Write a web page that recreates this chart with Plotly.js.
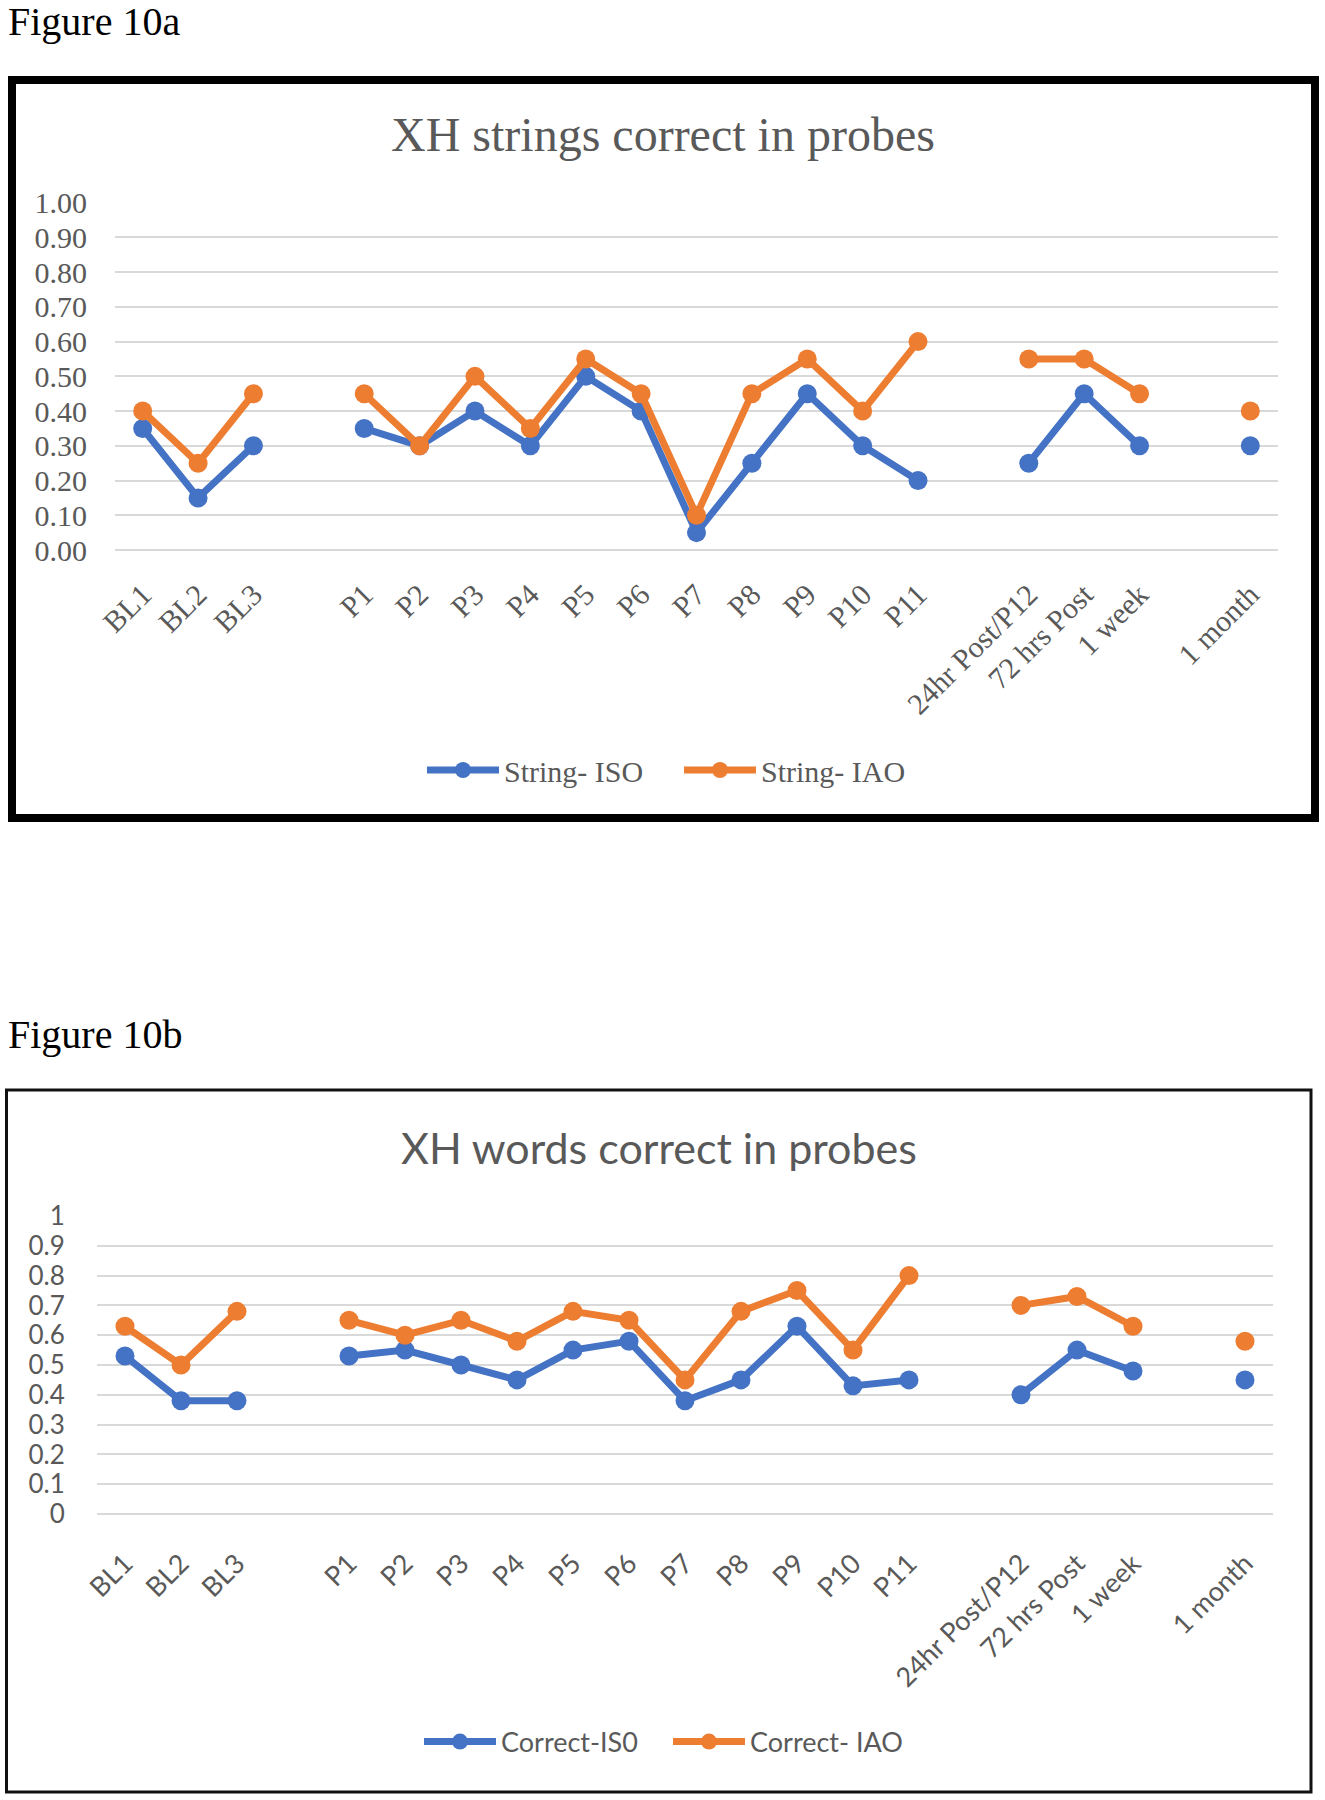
<!DOCTYPE html>
<html>
<head>
<meta charset="utf-8">
<script src="https://cdn.plot.ly/plotly-3.0.1.min.js"></script>
<style>
  html, body { margin: 0; padding: 0; background: #ffffff; }
  #chart { width: 1325px; height: 1800px; }
</style>
</head>
<body>
<div id="chart"></div>
<script>
// ---- Data ----
const categories = ["BL1", "BL2", "BL3", "", "P1", "P2", "P3", "P4", "P5", "P6", "P7", "P8", "P9", "P10", "P11", "", "24hr Post/P12", "72 hrs Post", "1 week", "", "1 month"];
const yTicks = [0, 0.1, 0.2, 0.3, 0.4, 0.5, 0.6, 0.7, 0.8, 0.9, 1.0];

// Figure 10a: XH strings correct in probes
const stringISO = [0.35, 0.15, 0.30, null, 0.35, 0.30, 0.40, 0.30, 0.50, 0.40, 0.05, 0.25, 0.45, 0.30, 0.20, null, 0.25, 0.45, 0.30, null, 0.30];
const stringIAO = [0.40, 0.25, 0.45, null, 0.45, 0.30, 0.50, 0.35, 0.55, 0.45, 0.10, 0.45, 0.55, 0.40, 0.60, null, 0.55, 0.55, 0.45, null, 0.40];

// Figure 10b: XH words correct in probes
const correctISO = [0.53, 0.38, 0.38, null, 0.53, 0.55, 0.50, 0.45, 0.55, 0.58, 0.38, 0.45, 0.63, 0.43, 0.45, null, 0.40, 0.55, 0.48, null, 0.45];
const correctIAO = [0.63, 0.50, 0.68, null, 0.65, 0.60, 0.65, 0.58, 0.68, 0.65, 0.45, 0.68, 0.75, 0.55, 0.80, null, 0.70, 0.73, 0.63, null, 0.58];

const seriesNamesA = ["String- ISO", "String- IAO"];
const seriesNamesB = ["Correct-IS0", "Correct- IAO"];

// ---- Styling ----
const W = 1325, H = 1800;
const BLUE = "#4472C4", ORANGE = "#ED7D31", GRAY = "#595959", GRID = "#D9D9D9";
const SERIF = "Liberation Serif, Times New Roman, serif";
const SANS = "Lato, Carlito, Calibri, sans-serif";
const px = v => v / W;
const py = v => 1 - v / H;

const xIdx = categories.map((c, i) => i);

function lineTrace(y, name, color, xa, ya, legend) {
  return {
    type: "scatter", mode: "lines+markers",
    x: xIdx, y: y, name: name,
    xaxis: xa, yaxis: ya, legend: legend,
    connectgaps: false,
    line: { color: color, width: 7 },
    marker: { color: color, size: 19 },
    hoverinfo: "x+y"
  };
}

const data = [
  lineTrace(stringISO, seriesNamesA[0], BLUE, "x", "y", "legend"),
  lineTrace(stringIAO, seriesNamesA[1], ORANGE, "x", "y", "legend"),
  lineTrace(correctISO, seriesNamesB[0], BLUE, "x2", "y2", "legend2"),
  lineTrace(correctIAO, seriesNamesB[1], ORANGE, "x2", "y2", "legend2")
];

function xAxis(domainPx, anchor, family, size, ticklen) {
  return {
    domain: [px(domainPx[0]), px(domainPx[1])],
    anchor: anchor,
    range: [-0.5, categories.length - 0.5],
    tickmode: "array", tickvals: xIdx, ticktext: categories,
    tickangle: -45,
    ticks: "outside", ticklen: ticklen, tickcolor: "rgba(0,0,0,0)",
    showgrid: false, zeroline: false, showline: false,
    tickfont: { family: family, size: size, color: GRAY },
    fixedrange: true
  };
}
function yAxis(domainPx, anchor, family, size, fmt, ticklen) {
  return {
    domain: [py(domainPx[1]), py(domainPx[0])],
    anchor: anchor,
    range: [0, 1],
    tickmode: "array", tickvals: yTicks,
    tickformat: fmt,
    ticks: "outside", ticklen: ticklen, tickcolor: "rgba(0,0,0,0)",
    showgrid: true, gridcolor: GRID, gridwidth: 2,
    zeroline: true, zerolinecolor: GRID, zerolinewidth: 2,
    showline: false,
    tickfont: { family: family, size: size, color: GRAY },
    fixedrange: true
  };
}

const layout = {
  width: W, height: H,
  margin: { l: 0, r: 0, t: 0, b: 0 },
  paper_bgcolor: "#ffffff", plot_bgcolor: "rgba(0,0,0,0)",
  showlegend: true,
  xaxis: xAxis([115, 1278], "y", SERIF, 30, 14),
  yaxis: yAxis([202.7, 550], "x", SERIF, 30, ".2f", 21),
  xaxis2: xAxis([97, 1273], "y2", SANS, 27, 22),
  yaxis2: yAxis([1216, 1514], "x2", SANS, 26, "", 26),
  legend: {
    orientation: "h", x: px(679), xanchor: "center", y: py(770), yanchor: "middle",
    font: { family: SERIF, size: 30, color: GRAY },
    itemwidth: 72, entrywidth: 170, bgcolor: "rgba(0,0,0,0)", traceorder: "normal"
  },
  legend2: {
    orientation: "h", x: px(668), xanchor: "center", y: py(1742), yanchor: "middle",
    font: { family: SANS, size: 27, color: GRAY },
    itemwidth: 72, entrywidth: 162, bgcolor: "rgba(0,0,0,0)", traceorder: "normal"
  },
  shapes: [
    { type: "rect", xref: "paper", yref: "paper", x0: px(12), x1: px(1315), y0: py(80), y1: py(818),
      line: { color: "#000000", width: 8 } },
    { type: "rect", xref: "paper", yref: "paper", x0: px(6.5), x1: px(1311), y0: py(1090), y1: py(1792),
      line: { color: "#111111", width: 3 } }
  ],
  annotations: [
    { text: "Figure 10a", xref: "paper", yref: "paper", x: px(6), y: py(21), xanchor: "left", yanchor: "middle",
      showarrow: false, font: { family: SERIF, size: 40, color: "#000000" } },
    { text: "XH strings correct in probes", xref: "paper", yref: "paper", x: px(663), y: py(135), xanchor: "center", yanchor: "middle",
      showarrow: false, font: { family: SERIF, size: 48, color: GRAY } },
    { text: "Figure 10b", xref: "paper", yref: "paper", x: px(6), y: py(1034), xanchor: "left", yanchor: "middle",
      showarrow: false, font: { family: SERIF, size: 40, color: "#000000" } },
    { text: "XH words correct in probes", xref: "paper", yref: "paper", x: px(659), y: py(1147), xanchor: "center", yanchor: "middle",
      showarrow: false, font: { family: SANS, size: 43, color: GRAY } }
  ]
};

Plotly.newPlot("chart", data, layout, { displayModeBar: false, staticPlot: true });
</script>
</body>
</html>
